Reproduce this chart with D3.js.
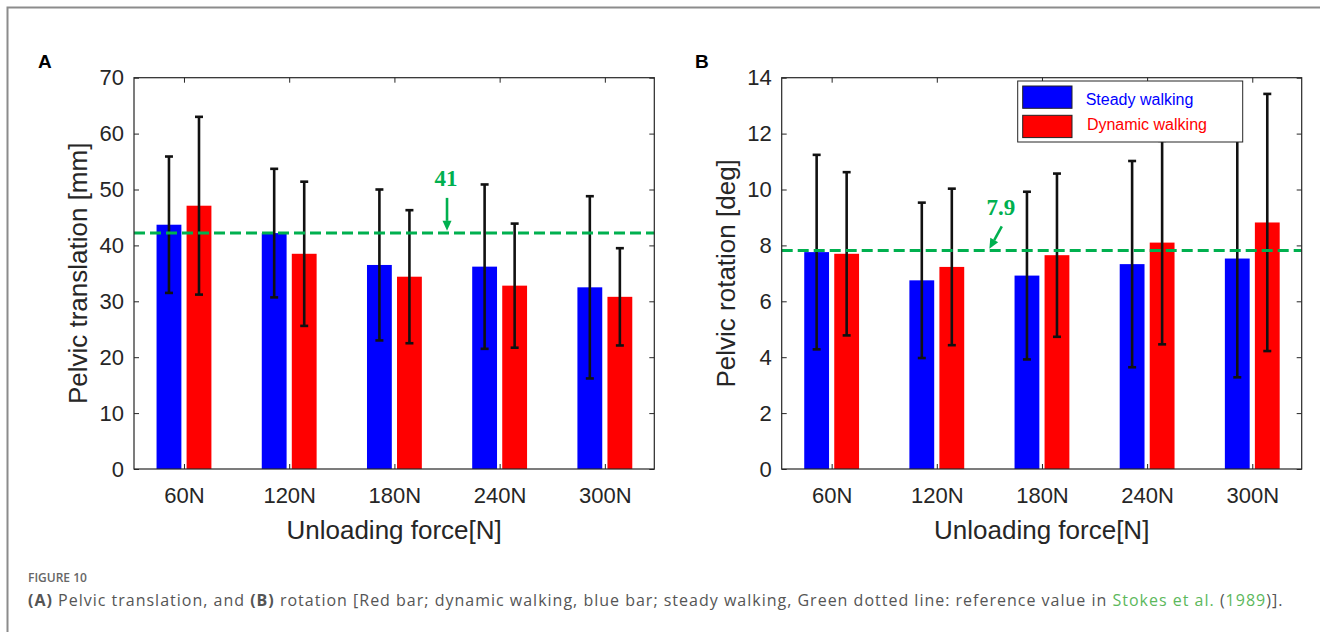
<!DOCTYPE html>
<html>
<head>
<meta charset="utf-8">
<title>Pelvic translation and rotation</title>
<script src="https://cdn.jsdelivr.net/npm/d3@7"></script>
<style>
  body { margin: 0; background: #fff; }
  svg { display: block; }
</style>
</head>
<body>
<svg id="fig" width="1320" height="632"></svg>
<script>
// data
const forces = ["60N", "120N", "180N", "240N", "300N"];
const seriesNames = ["Steady walking", "Dynamic walking"];

const transSteady    = [43.7, 42.2, 36.5, 36.2, 32.5];
const transSteadySD  = [12.2, 11.5, 13.5, 14.7, 16.3];
const transDynamic   = [47.1, 38.5, 34.4, 32.8, 30.8];
const transDynamicSD = [15.9, 12.9, 11.9, 11.1, 8.7];

const rotSteady    = [7.76, 6.75, 6.92, 7.33, 7.53];
const rotSteadySD  = [3.48, 2.78, 3.0, 3.69, 4.25];
const rotDynamic   = [7.7, 7.23, 7.65, 8.1, 8.82];
const rotDynamicSD = [2.92, 2.8, 2.92, 3.64, 4.6];

const transTicks = [0, 10, 20, 30, 40, 50, 60, 70];
const rotTicks   = [0, 2, 4, 6, 8, 10, 12, 14];

const transRef = 42.2, transRefLabel = "41";
const rotRef = 7.82,   rotRefLabel = "7.9";

const BLUE = "#0000ff", RED = "#ff0000", GREEN = "#00b04f", INK = "#262626";

const svg = d3.select("#fig");

// outer frame of the figure
svg.append("path")
  .attr("d", "M7.5,632 V7.5 H1320")
  .attr("fill", "none")
  .attr("stroke", "#8c8c8c")
  .attr("stroke-width", 2);

function drawPanel(opt) {
  const x = d3.scaleLinear().domain([0.525, 5.47]).range([opt.left, opt.right]);
  const y = d3.scaleLinear().domain([0, opt.ticks[opt.ticks.length - 1]]).range([opt.bottom, opt.top]);
  const unit = x(1) - x(0);
  const barW = 0.236 * unit;
  const offs = [-0.1427, 0.1427];
  const means = [opt.steady, opt.dynamic];
  const sds = [opt.steadySD, opt.dynamicSD];
  const colors = [BLUE, RED];

  const g = svg.append("g");

  // bars
  means.forEach((m, s) => {
    g.append("g").selectAll("rect")
      .data(m)
      .join("rect")
      .attr("x", (d, i) => x(i + 1 + offs[s]) - barW / 2)
      .attr("y", d => y(d))
      .attr("width", barW)
      .attr("height", d => y(0) - y(d))
      .attr("fill", colors[s]);
  });

  // error bars
  means.forEach((m, s) => {
    const eg = g.append("g").attr("stroke", "#111").attr("stroke-width", 2.6);
    m.forEach((d, i) => {
      const cx = x(i + 1 + offs[s]);
      const lo = y(d - sds[s][i]), hi = y(d + sds[s][i]);
      eg.append("line").attr("x1", cx).attr("x2", cx).attr("y1", lo).attr("y2", hi);
      eg.append("line").attr("x1", cx - 4).attr("x2", cx + 4).attr("y1", lo).attr("y2", lo);
      eg.append("line").attr("x1", cx - 4).attr("x2", cx + 4).attr("y1", hi).attr("y2", hi);
    });
  });

  // reference line
  g.append("line")
    .attr("x1", opt.left).attr("x2", opt.right)
    .attr("y1", y(opt.ref)).attr("y2", y(opt.ref))
    .attr("stroke", GREEN)
    .attr("stroke-width", 3)
    .attr("stroke-dasharray", "11,5");

  // annotation arrow + label
  const a0 = [x(opt.arrowFrom[0]), y(opt.arrowFrom[1])];
  const a1 = [x(opt.arrowTo[0]), y(opt.arrowTo[1])];
  const ang = Math.atan2(a1[1] - a0[1], a1[0] - a0[0]);
  const hl = 10, hw = 4.5;
  const bx = a1[0] - hl * Math.cos(ang), by = a1[1] - hl * Math.sin(ang);
  g.append("line")
    .attr("x1", a0[0]).attr("y1", a0[1]).attr("x2", bx).attr("y2", by)
    .attr("stroke", GREEN).attr("stroke-width", 2.6);
  g.append("path")
    .attr("d", `M${a1[0]},${a1[1]} L${bx + hw * Math.sin(ang)},${by - hw * Math.cos(ang)} L${bx - hw * Math.sin(ang)},${by + hw * Math.cos(ang)} Z`)
    .attr("fill", GREEN);
  g.append("text")
    .attr("x", x(opt.labelAt[0]))
    .attr("y", y(opt.labelAt[1]))
    .attr("text-anchor", "middle")
    .attr("font-family", "'Liberation Serif', 'Times New Roman', serif")
    .attr("font-weight", "bold")
    .attr("font-size", 23)
    .attr("fill", GREEN)
    .text(opt.refLabel);

  // axes (MATLAB style: box, inward ticks)
  const tickFont = "'Liberation Sans', Arial, sans-serif";
  const yl = g.append("g")
    .attr("transform", `translate(${opt.left},0)`)
    .call(d3.axisLeft(y).tickValues(opt.ticks).tickSizeInner(-5).tickSizeOuter(0).tickPadding(10));
  const yr = g.append("g")
    .attr("transform", `translate(${opt.right},0)`)
    .call(d3.axisRight(y).tickValues(opt.ticks).tickSizeInner(-5).tickSizeOuter(0).tickFormat(""));
  const xb = g.append("g")
    .attr("transform", `translate(0,${opt.bottom})`)
    .call(d3.axisBottom(x).tickValues([1, 2, 3, 4, 5]).tickSizeInner(-5).tickSizeOuter(0)
      .tickPadding(18).tickFormat(d => forces[d - 1]));
  const xt = g.append("g")
    .attr("transform", `translate(0,${opt.top})`)
    .call(d3.axisTop(x).tickValues([1, 2, 3, 4, 5]).tickSizeInner(-5).tickSizeOuter(0).tickFormat(""));
  [yl, yr, xb, xt].forEach(ax => {
    ax.select(".domain").remove();
    ax.selectAll(".tick line").attr("stroke", INK);
    ax.selectAll("text")
      .attr("font-family", tickFont)
      .attr("font-size", 22)
      .attr("fill", INK);
  });

  g.append("rect")
    .attr("x", opt.left).attr("y", opt.top)
    .attr("width", opt.right - opt.left).attr("height", opt.bottom - opt.top)
    .attr("fill", "none").attr("stroke", INK).attr("stroke-width", 1.2);

  // axis labels
  g.append("text")
    .attr("x", (opt.left + opt.right) / 2)
    .attr("y", opt.bottom + 70)
    .attr("text-anchor", "middle")
    .attr("font-family", tickFont)
    .attr("font-size", 26)
    .attr("fill", INK)
    .text("Unloading force[N]");
  g.append("text")
    .attr("transform", `translate(${opt.left - 47},${(opt.top + opt.bottom) / 2}) rotate(-90)`)
    .attr("text-anchor", "middle")
    .attr("font-family", tickFont)
    .attr("font-size", 26)
    .attr("fill", INK)
    .text(opt.yLabel);

  // panel letter
  g.append("text")
    .attr("x", opt.letterX).attr("y", 68)
    .attr("font-family", tickFont)
    .attr("font-weight", "bold")
    .attr("font-size", 19)
    .attr("fill", "#000")
    .text(opt.letter);

  // legend
  if (opt.legend) {
    const lg = g.append("g").attr("transform", `translate(${opt.left + 236},${opt.top + 3.3})`);
    lg.append("rect")
      .attr("width", 225).attr("height", 61)
      .attr("fill", "#fff").attr("stroke", INK).attr("stroke-width", 1);
    seriesNames.forEach((name, s) => {
      lg.append("rect")
        .attr("x", 5).attr("y", 5 + s * 29.3)
        .attr("width", 49.3).attr("height", 22.3)
        .attr("fill", colors[s]).attr("stroke", "#222").attr("stroke-width", 1);
      lg.append("text")
        .attr("x", 68 + s * 1.2).attr("y", 23.7 + s * 24.9)
        .attr("font-family", tickFont)
        .attr("font-size", 16)
        .attr("fill", colors[s])
        .text(name);
    });
  }
}

drawPanel({
  letter: "A", letterX: 38,
  left: 134, right: 654.3, top: 77.7, bottom: 469,
  ticks: transTicks,
  steady: transSteady, steadySD: transSteadySD,
  dynamic: transDynamic, dynamicSD: transDynamicSD,
  ref: transRef, refLabel: transRefLabel,
  arrowFrom: [3.5, 48.5], arrowTo: [3.5, 42.6], labelAt: [3.49, 50.7],
  yLabel: "Pelvic translation [mm]"
});

drawPanel({
  letter: "B", letterX: 695,
  left: 781.7, right: 1301.7, top: 77.7, bottom: 469,
  ticks: rotTicks,
  steady: rotSteady, steadySD: rotSteadySD,
  dynamic: rotDynamic, dynamicSD: rotDynamicSD,
  ref: rotRef, refLabel: rotRefLabel,
  arrowFrom: [2.618, 8.68], arrowTo: [2.5, 7.88], labelAt: [2.61, 9.09],
  yLabel: "Pelvic rotation [deg]",
  legend: true
});

// caption
const capFont = "'Open Sans', 'Noto Sans', sans-serif";
svg.append("text")
  .attr("x", 28).attr("y", 582)
  .attr("font-family", capFont)
  .attr("font-weight", 600)
  .attr("font-size", 12)
  .attr("fill", "#666")
  .text("FIGURE 10");

const capParts = [
  { t: "(A)", b: true },
  { t: " Pelvic translation, and " },
  { t: "(B)", b: true },
  { t: " rotation [Red bar; dynamic walking, blue bar; steady walking, Green dotted line: reference value in " },
  { t: "Stokes et al.", c: "#5cb85c" },
  { t: " (" },
  { t: "1989", c: "#5cb85c" },
  { t: ")]." }
];
const cap = svg.append("text")
  .attr("x", 28).attr("y", 606)
  .attr("font-family", capFont)
  .attr("font-size", 16)
  .attr("letter-spacing", 1)
  .attr("fill", "#555");
capParts.forEach(p => {
  cap.append("tspan")
    .attr("font-weight", p.b ? 700 : 400)
    .attr("fill", p.c || "#555")
    .text(p.t);
});
</script>
</body>
</html>
